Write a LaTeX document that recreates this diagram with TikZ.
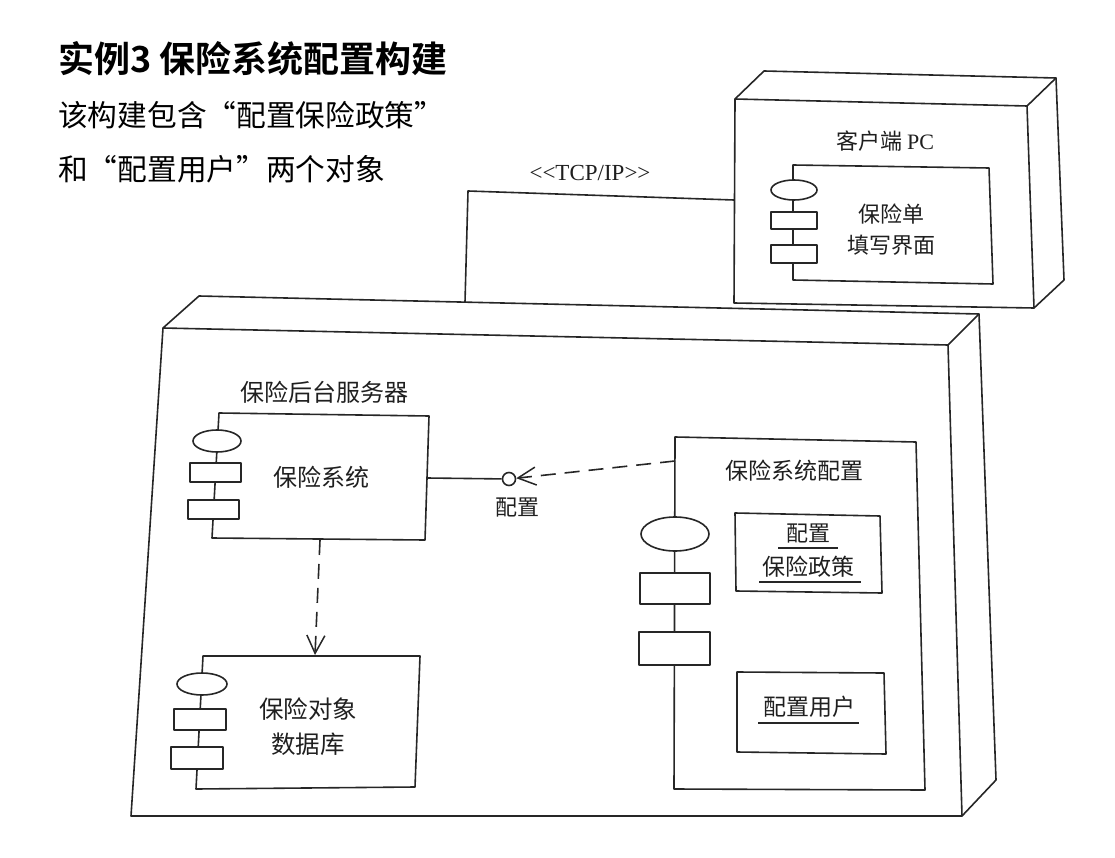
\documentclass[tikz,border=0pt]{standalone}
\usepackage{fontspec}
\setmainfont{Noto Sans CJK SC}[BoldFont={Noto Sans CJK SC Bold}]
\newfontfamily\latinserif{Liberation Serif}
\newcommand{\openq}{\makebox[1em][r]{“}}
\newcommand{\closeq}{\makebox[1em][l]{”}}
\usetikzlibrary{arrows.meta}
\tikzset{
  edge/.style={line width=1.6pt, black!85, line join=round},
  part/.style={edge, fill=white},
  word/.style={inner sep=0pt, align=center, text=black!88, font=\fontsize{22}{31}\selectfont},
  wordbig/.style={word, font=\fontsize{23}{31}\selectfont},
  heading/.style={inner sep=0pt, anchor=west, text=black, font=\fontsize{29.7}{34}\selectfont},
  depends/.style={edge, dash pattern=on 15pt off 9pt, -{Straight Barb[length=18pt, width=18pt, line width=1.5pt]}}
}
\begin{document}
\begin{tikzpicture}[x=1pt, y=-1pt]
    \useasboundingbox (0,0) rectangle (1115,858);

    % Heading
    \node[heading, font=\fontsize{36}{40}\selectfont\bfseries] (title) at (58,59) {实例3 保险系统配置构建};
    \node[heading] (introa) at (58,115) {该构建包含\openq 配置保险政策\closeq};
    \node[heading] (introb) at (58,169) {和\openq 配置用户\closeq 两个对象};

    % Client device
    \draw[edge] (735,99) -- (1027,106) -- (1034,308) -- (734,303) -- cycle;
    \draw[edge] (735,99) -- (764,71) -- (1056,78) -- (1027,106);
    \draw[edge] (1056,78) -- (1064,280) -- (1034,308);
    \node[word] (pclabel) at (885,141) {客户端 {\latinserif PC}};

    % Form component
    \draw[edge] (793,165) -- (989,168) -- (993,284) -- (793,280) -- cycle;
    \filldraw[part] (794,190) ellipse (23pt and 10pt);
    \filldraw[part] (771,212) rectangle (817,229);
    \filldraw[part] (771,245) rectangle (817,263);
    \node[word] (formlabel) at (891,230) {保险单\\填写界面};

    % Server device
    \draw[edge] (163,328) -- (948,345) -- (962,816) -- (131,816) -- cycle;
    \draw[edge] (163,328) -- (199,296) -- (979,314) -- (948,345);
    \draw[edge] (979,314) -- (996,780) -- (962,816);
    \node[wordbig, font=\fontsize{24}{31}\selectfont] (serverlabel) at (324,392) {保险后台服务器};

    % System component
    \draw[edge] (219,413) -- (429,416) -- (425,540) -- (212,538) -- cycle;
    \filldraw[part] (217,441) ellipse (24pt and 11pt);
    \filldraw[part] (190,463) rectangle (241,482);
    \filldraw[part] (188,500) rectangle (239,519);
    \node[wordbig, font=\fontsize{24}{31}\selectfont] (systemlabel) at (321,477) {保险系统};

    % Database component
    \draw[edge] (203,656) -- (420,656) -- (415,787) -- (196,789) -- cycle;
    \filldraw[part] (202,684) ellipse (25pt and 11pt);
    \filldraw[part] (174,709) rectangle (226,730);
    \filldraw[part] (171,747) rectangle (223,769);
    \node[wordbig, font=\fontsize{24.5}{35}\selectfont] (dblabel) at (308,727) {保险对象\\数据库};

    % Configuration component
    \draw[edge] (675,437) -- (916,442) -- (925,790) -- (674,789) -- cycle;
    \filldraw[part] (675,534) ellipse (34pt and 17pt);
    \filldraw[part] (640,573) rectangle (710,604);
    \filldraw[part] (639,632) rectangle (710,665);
    \node[wordbig] (configlabel) at (794,471) {保险系统配置};

    % Policy object
    \draw[edge] (735,513) -- (880,516) -- (882,593) -- (736,591) -- cycle;
    \node[word] (policya) at (808,534) {配置};
    \node[wordbig] (policyb) at (808,567) {保险政策};
    \draw[edge] (778,548) -- (838,548);
    \draw[edge] (759,582) -- (861,582);

    % User object
    \draw[edge] (737,672) -- (884,673) -- (886,754) -- (737,752) -- cycle;
    \node[wordbig] (userlabel) at (809,707) {配置用户};
    \draw[edge] (758,723) -- (859,723);

    % TCP/IP link
    \coordinate (pcport) at (734,200);
    \coordinate (tcpbend) at (468,191);
    \coordinate (serverport) at (465,302);
    \draw[edge] (pcport) -- (tcpbend) -- (serverport);
    \node[word, font=\fontsize{23}{26}\selectfont\latinserif] (tcplabel) at (590,173) {<{}<TCP/IP>{}>};

    % Provided interface
    \coordinate (sysright) at (427,478);
    \coordinate (configleft) at (675,461);
    \node[draw, edge, fill=white, circle, minimum size=13pt, inner sep=0pt] (iface) at (509,479) {};
    \node[word] (ifacelabel) at (517,508) {配置};
    \draw[edge] (sysright) -- (iface);
    \draw[depends] (configleft) -- (iface);

    % Dependency on database
    \coordinate (sysbottom) at (320,540);
    \coordinate (dbtop) at (315,655);
    \draw[depends] (sysbottom) -- (dbtop);
\end{tikzpicture}
\end{document}
